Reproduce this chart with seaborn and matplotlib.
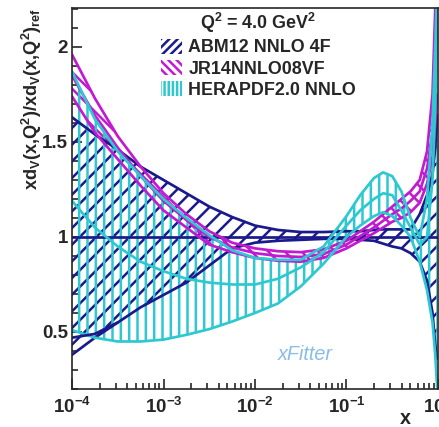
import numpy as np
import matplotlib
matplotlib.use("Agg")
import matplotlib.pyplot as plt
import seaborn as sns
from matplotlib.patches import Patch
from matplotlib.ticker import MultipleLocator, LogLocator, LogFormatterMathtext, NullFormatter

x_log = [-4, -3.75, -3.5, -3.25, -3, -2.75, -2.5, -2.25, -2, -1.75, -1.5, -1.25,
         -1, -0.85, -0.7, -0.6, -0.5, -0.4, -0.3, -0.2, -0.12, -0.06, -0.03, -0.01]

abm_up = [1.63, 1.54, 1.46, 1.37, 1.30, 1.23, 1.16, 1.105, 1.06, 1.037, 1.026, 1.026,
          1.03, 1.03, 1.037, 1.04, 1.04, 1.04, 1.04, 1.12, 1.22, 1.33, 1.47, 1.64]
abm_lo = [0.38, 0.47, 0.55, 0.63, 0.695, 0.76, 0.85, 0.94, 0.97, 0.98, 0.985, 0.99,
          0.99, 0.985, 0.98, 0.965, 0.95, 0.94, 0.915, 0.87, 0.77, 0.60, 0.43, 0.36]
abm_lo2 = [0.47, 0.49, 0.55]
abm_c = [1.0] * len(x_log)

jr_up = [1.96, 1.73, 1.53, 1.37, 1.23, 1.12, 1.03, 0.97, 0.94, 0.925, 0.92, 0.935,
         0.98, 1.03, 1.08, 1.12, 1.16, 1.20, 1.24, 1.30, 1.45, 1.75, 2.20, 2.50]
jr_c = [1.85, 1.64, 1.47, 1.32, 1.19, 1.09, 1.00, 0.945, 0.915, 0.90, 0.895, 0.91,
        0.96, 1.005, 1.05, 1.085, 1.12, 1.15, 1.19, 1.24, 1.36, 1.55, 1.85, 2.20]
jr_lo = [1.74, 1.55, 1.41, 1.27, 1.14, 1.05, 0.96, 0.92, 0.89, 0.875, 0.87, 0.89,
         0.94, 0.98, 1.02, 1.05, 1.08, 1.10, 1.13, 1.18, 1.28, 1.42, 1.60, 1.75]

hera_up = [1.87, 1.62, 1.45, 1.32, 1.20, 1.10, 1.01, 0.93, 0.89, 0.88, 0.88, 0.95,
           1.11, 1.22, 1.31, 1.34, 1.32, 1.24, 1.10, 1.00, 1.20, 1.60, 2.00, 2.30]
hera_c = [1.19, 1.05, 0.95, 0.87, 0.82, 0.78, 0.76, 0.75, 0.75, 0.78, 0.84, 0.92,
          1.06, 1.14, 1.20, 1.23, 1.22, 1.14, 1.05, 0.96, 1.00, 1.30, 1.70, 2.30]
hera_lo = [0.51, 0.47, 0.45, 0.45, 0.46, 0.485, 0.515, 0.555, 0.60, 0.65, 0.74, 0.86,
           1.00, 1.06, 1.11, 1.13, 1.11, 1.06, 1.00, 0.87, 0.72, 0.55, 0.38, 0.21]

navy = "#1a1a8c"
magenta = "#c21ad0"
cyan = "#2ec8d0"

sns.set_style("ticks")
plt.rcParams["font.family"] = ["Liberation Sans", "DejaVu Sans"]
plt.rcParams["font.weight"] = "bold"
plt.rcParams["mathtext.fontset"] = "custom"
plt.rcParams["mathtext.rm"] = "Liberation Sans:bold"
plt.rcParams["mathtext.it"] = "Liberation Sans:bold"
plt.rcParams["mathtext.bf"] = "Liberation Sans:bold"
plt.rcParams["hatch.linewidth"] = 1.2

fig = plt.figure(figsize=(440 / 150, 427 / 150), dpi=150)
ax = fig.add_axes([72 / 440, 38 / 427, 366 / 440, 381 / 427])

x = 10.0 ** np.array(x_log)

bands = [
    (abm_up, abm_lo, abm_c, navy, "///"),
    (jr_up, jr_lo, jr_c, magenta, "\\\\\\"),
    (hera_up, hera_lo, hera_c, cyan, "|||"),
]
for up, lo, c, col, h in bands:
    ax.fill_between(x, lo, up, facecolor="none", edgecolor=col, hatch=h, linewidth=0)
    for ys in (up, lo, c):
        sns.lineplot(x=x, y=ys, color=col, lw=1.3, ax=ax, estimator=None, sort=False)
sns.lineplot(x=x[:len(abm_lo2)], y=abm_lo2, color=navy, lw=1.3, ax=ax, estimator=None, sort=False)

ax.set_xscale("log")
ax.set_xlim(1e-4, 1)
ax.set_ylim(0.2, 2.205)

ax.yaxis.set_major_locator(MultipleLocator(0.5))
ax.yaxis.set_minor_locator(MultipleLocator(0.1))
ax.yaxis.set_major_formatter(matplotlib.ticker.FuncFormatter(lambda v, p: f"{v:g}"))
ax.xaxis.set_major_locator(LogLocator(base=10, numticks=10))
ax.xaxis.set_minor_locator(LogLocator(base=10, subs=np.arange(2, 10), numticks=20))
ax.xaxis.set_major_formatter(LogFormatterMathtext())
ax.xaxis.set_minor_formatter(NullFormatter())
ax.tick_params(axis="both", which="major", direction="in", length=5, width=0.8,
               labelsize=9, top=False, right=False)
ax.tick_params(axis="both", which="minor", direction="in", length=2.8, width=0.8,
               top=False, right=False)
ax.tick_params(axis="x", pad=4)
ax.tick_params(axis="y", pad=2)
for s in ax.spines.values():
    s.set_linewidth(0.8)

fig.text(405 / 440, 1 - 418 / 427, "x", fontsize=9.5, fontweight="bold",
         ha="center", va="center")
ax.set_ylabel(r"xd$_\mathregular{V}$(x,Q$^\mathregular{2}$)/xd$_\mathregular{V}$(x,Q$^\mathregular{2}$)$_\mathregular{ref}$",
              fontsize=8.7, fontweight="bold", loc="top", labelpad=-1)

handles = [Patch(facecolor="none", edgecolor=col, hatch=h * 2, linewidth=0)
           for _, _, _, col, h in bands]
leg = ax.legend(handles, ["ABM12 NNLO 4F", "JR14NNLO08VF", "HERAPDF2.0 NNLO"],
                title=r"Q$^\mathregular{2}$ = 4.0 GeV$^\mathregular{2}$", loc="upper left",
                bbox_to_anchor=(0.213, 1.02), frameon=False, fontsize=8.6,
                title_fontsize=8.6, handlelength=1.2, handleheight=0.9,
                handletextpad=0.35, labelspacing=0.2, borderpad=0.1)
leg.get_title().set_fontweight("bold")

ax.text(0.562, 0.075, "xFitter", transform=ax.transAxes, fontsize=9.5,
        style="italic", fontweight="normal", color="#7ab6e6", alpha=0.9)

fig.savefig("out.png", dpi=150)
